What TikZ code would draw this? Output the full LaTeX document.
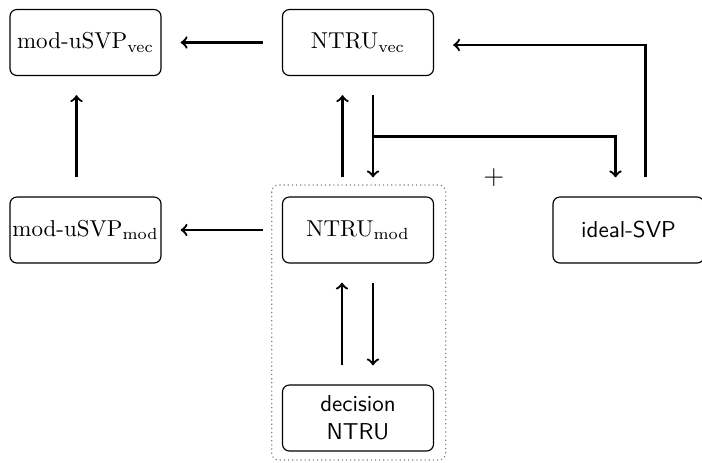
\documentclass[tikz,border=0pt]{standalone}
\usetikzlibrary{calc}
\begin{document}
\begin{tikzpicture}[x=0.435pt,y=-0.435pt,
  box/.style={draw,line width=0.5pt,rounded corners=3pt,minimum width=65.7pt,minimum height=28.7pt,inner sep=0pt,align=center},
  arr/.style={->,line width=1pt,shorten <=8.3pt,shorten >=8.3pt},
  frame/.style={draw=gray,line width=0.5pt,dash pattern=on 0.5pt off 1.3pt,rounded corners=3pt}]
\useasboundingbox (0,0) rectangle (702,462);
\node[box] (muvec) at (85.5,42.5) {mod-uSVP$_{\mathrm{vec}}$};
\node[box] (nvec) at (358,42.5) {NTRU$_{\mathrm{vec}}$};
\node[box] (mumod) at (85.5,230) {mod-uSVP$_{\mathrm{mod}}$};
\node[box] (nmod) at (358,230) {NTRU$_{\mathrm{mod}}$};
\node[box] (ideal) at (628.5,230) {\sffamily ideal-SVP};
\node[box] (dec) at (358,418) {\sffamily decision\\ \sffamily NTRU};
\node[font=\large] (plus) at (494,178) {$+$};
\draw[frame] (271.7,185) rectangle (445.7,460);
\draw[arr] (nvec.west) -- (muvec.east);
\draw[arr] (nmod.west) -- (mumod.east);
\draw[arr] ($(mumod.north)+(-9,0)$) -- ($(muvec.south)+(-9,0)$);
\draw[arr] ($(nmod.north)+(-15.5,0)$) -- ($(nvec.south)+(-15.5,0)$);
\draw[arr] ($(nvec.south)+(15,0)$) -- ($(nmod.north)+(15,0)$);
\coordinate (br) at ($(nvec.south)+(15,60.5)$);
\draw[line width=1pt,->,shorten >=8.3pt] (br) -| ($(ideal.north)+(-13,0)$);
\draw[line width=1pt,->,shorten <=8.3pt,shorten >=8.3pt] ($(ideal.north)+(17,0)$) |- ($(nvec.east)+(0,2.5)$);
\draw[arr] ($(dec.north)+(-16,0)$) -- ($(nmod.south)+(-16,0)$);
\draw[arr] ($(nmod.south)+(15,0)$) -- ($(dec.north)+(15,0)$);
\end{tikzpicture}
\end{document}
